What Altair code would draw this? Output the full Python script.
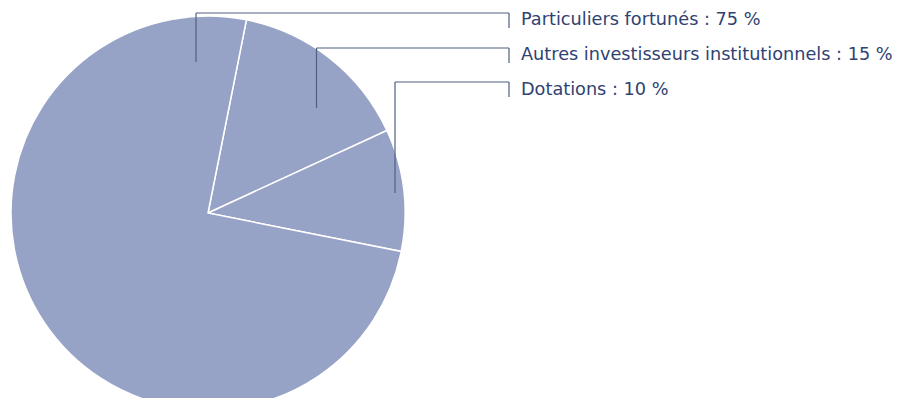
import altair as alt
import pandas as pd
import math

# Data
categories = ["Autres investisseurs institutionnels", "Dotations", "Particuliers fortunés"]
shares = [15, 10, 75]
label_order = ["Particuliers fortunés", "Autres investisseurs institutionnels", "Dotations"]

# Layout (pixels within the plot area)
W, H = 888, 390
CX, CY, R = 200, 205, 197
START = math.radians(11.25)
# leader anchors: (x of vertical stem, stem bottom y, elbow y, label y)
anchors = {
    "Particuliers fortunés": (188, 54, 5, 12),
    "Autres investisseurs institutionnels": (308.5, 100, 40, 47),
    "Dotations": (387, 185, 74, 82),
}
ELBOW_X = 501
LABEL_X = 513

pie_df = pd.DataFrame({"cat": categories, "share": shares, "order": [0, 1, 2]})

seg_rows = []
lab_rows = []
for c in label_order:
    v = shares[categories.index(c)]
    ax, ay, ey, ly = anchors[c]
    seg_rows.append({"x": ax, "y": ay, "x2": ax, "y2": ey})
    seg_rows.append({"x": ax, "y": ey, "x2": ELBOW_X, "y2": ey})
    seg_rows.append({"x": ELBOW_X, "y": ey, "x2": ELBOW_X, "y2": ey + 15})
    lab_rows.append({"x": LABEL_X, "y": ly, "text": f"{c} : {v} %"})
seg_df = pd.DataFrame(seg_rows)
lab_df = pd.DataFrame(lab_rows)

xs = alt.Scale(domain=[0, W], range=[0, W])
ys = alt.Scale(domain=[0, H], range=[0, H])

pie = alt.Chart(pie_df).mark_arc(
    color="#97a3c6", stroke="white", strokeWidth=1.5, radius=R
).encode(
    theta=alt.Theta("share:Q", stack=True, scale=alt.Scale(range=[START, START + 2 * math.pi])),
    order=alt.Order("order:Q"),
    x=alt.value(CX),
    y=alt.value(CY),
)

rules = alt.Chart(seg_df).mark_rule(color="#4e5f82", strokeWidth=1.2).encode(
    x=alt.X("x:Q", scale=xs, axis=None),
    y=alt.Y("y:Q", scale=ys, axis=None),
    x2="x2:Q",
    y2="y2:Q",
)

labels = alt.Chart(lab_df).mark_text(
    align="left", baseline="middle", font="DejaVu Sans", fontSize=17.7, color="#2f4272"
).encode(
    x=alt.X("x:Q", scale=xs, axis=None),
    y=alt.Y("y:Q", scale=ys, axis=None),
    text="text:N",
)

chart = alt.layer(pie, rules, labels).properties(
    width=W, height=H, padding=0, autosize=alt.AutoSizeParams(type="none")
).configure_view(stroke=None)

chart.save("out.html", embed_options={"renderer": "svg", "actions": False})
